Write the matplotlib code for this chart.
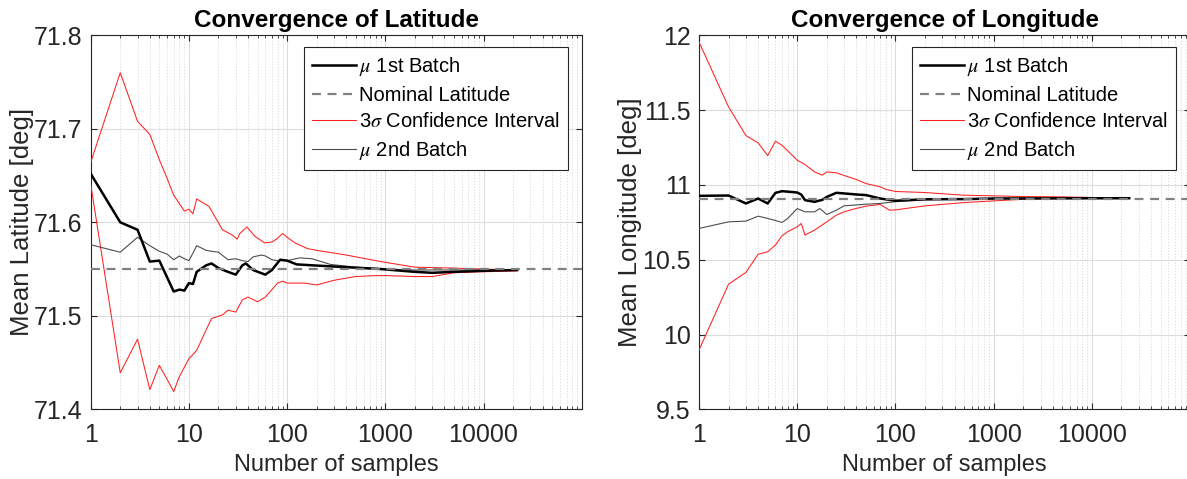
import matplotlib
matplotlib.use('Agg')
import matplotlib.pyplot as plt
import numpy as np

plt.rcParams['font.family'] = ['Liberation Sans', 'DejaVu Sans']
plt.rcParams['mathtext.fontset'] = 'stix'

# --- latitude (left panel) ---
lat_nominal = 71.55

lat_up_n = [1, 2, 3, 4, 5, 6, 7, 9, 10, 11, 12, 16, 22, 28, 31, 33, 39, 47, 59, 70, 78, 90,
            100, 120, 160, 200, 400, 900, 2000, 5000, 10000, 22000]
lat_up = [71.664, 71.760, 71.708, 71.694, 71.667, 71.647, 71.629, 71.612, 71.614, 71.609, 71.625,
          71.617, 71.592, 71.586, 71.582, 71.588, 71.595, 71.585, 71.578, 71.579, 71.582, 71.588,
          71.584, 71.578, 71.572, 71.570, 71.565, 71.558, 71.552, 71.551, 71.550, 71.549]

lat_lo_n = [1, 2, 3, 4, 5, 6, 7, 8, 10, 12, 15, 17, 22, 25, 30, 35, 40, 50, 60, 80, 90, 100,
            150, 200, 300, 500, 800, 1000, 2000, 3000, 5000, 9000, 22000]
lat_lo = [71.641, 71.439, 71.475, 71.421, 71.447, 71.432, 71.419, 71.435, 71.454, 71.463, 71.485,
          71.497, 71.501, 71.506, 71.504, 71.517, 71.520, 71.515, 71.520, 71.535, 71.537, 71.535,
          71.535, 71.533, 71.538, 71.542, 71.543, 71.543, 71.542, 71.542, 71.546, 71.547, 71.548]

lat_b1_n = [1, 2, 3, 4, 5, 7, 8, 9, 10, 11, 12, 15, 17, 20, 25, 30, 35, 38, 45, 60, 70, 85,
            100, 125, 180, 400, 900, 2000, 3000, 5000, 9000, 22000]
lat_b1 = [71.652, 71.600, 71.592, 71.558, 71.559, 71.526, 71.528, 71.527, 71.535, 71.534, 71.547,
          71.554, 71.556, 71.551, 71.547, 71.544, 71.554, 71.556, 71.549, 71.544, 71.549, 71.560,
          71.559, 71.555, 71.554, 71.552, 71.550, 71.547, 71.546, 71.547, 71.548, 71.549]

lat_b2_n = [1, 2, 3, 4, 5, 6, 7, 8, 9, 10, 11, 12, 15, 17, 20, 25, 30, 35, 40, 45, 55, 60, 70,
            80, 100, 135, 180, 275, 500, 1000, 1900, 5000, 22000]
lat_b2 = [71.576, 71.568, 71.584, 71.575, 71.569, 71.566, 71.560, 71.564, 71.561, 71.559, 71.567,
          71.575, 71.570, 71.569, 71.568, 71.560, 71.561, 71.559, 71.558, 71.563, 71.565, 71.564,
          71.560, 71.559, 71.559, 71.562, 71.561, 71.555, 71.552, 71.550, 71.549, 71.549, 71.549]

# --- longitude (right panel) ---
lon_nominal = 10.905

lon_up_n = [1, 2, 3, 4, 5, 6, 7, 10, 12, 15, 18, 20, 25, 30, 40, 50, 70, 80, 100, 200, 500,
            1000, 2000, 5000, 24000]
lon_up = [11.955, 11.521, 11.330, 11.281, 11.196, 11.292, 11.265, 11.165, 11.136, 11.087, 11.065,
          11.087, 11.081, 11.063, 11.036, 11.009, 10.987, 10.970, 10.956, 10.949, 10.931, 10.927,
          10.922, 10.920, 10.911]

lon_lo_n = [1, 2, 3, 4, 5, 6, 7, 8, 10, 11, 12, 15, 20, 25, 30, 40, 50, 70, 87, 100, 200, 500,
            1000, 2000, 5000, 24000]
lon_lo = [9.896, 10.337, 10.415, 10.537, 10.553, 10.598, 10.660, 10.687, 10.720, 10.742, 10.664,
          10.698, 10.753, 10.798, 10.820, 10.843, 10.858, 10.869, 10.831, 10.833, 10.860, 10.882,
          10.893, 10.904, 10.909, 10.911]

lon_b1_n = [1, 2, 3, 4, 5, 6, 7, 8, 10, 11, 12, 15, 18, 20, 25, 30, 40, 50, 70, 100, 200, 500,
            1000, 3000, 24000]
lon_b1 = [10.927, 10.929, 10.876, 10.909, 10.876, 10.947, 10.958, 10.955, 10.949, 10.935, 10.898,
          10.887, 10.900, 10.920, 10.947, 10.943, 10.936, 10.932, 10.909, 10.894, 10.904, 10.905,
          10.909, 10.910, 10.911]

lon_b2_n = [1, 2, 3, 4, 5, 6, 7, 8, 10, 12, 15, 17, 20, 25, 30, 50, 70, 100, 200, 500, 1000, 24000]
lon_b2 = [10.709, 10.753, 10.758, 10.791, 10.776, 10.762, 10.749, 10.776, 10.842, 10.820, 10.820,
          10.842, 10.802, 10.831, 10.860, 10.871, 10.876, 10.888, 10.900, 10.906, 10.909, 10.911]

x_ticks = [1, 10, 100, 1000, 10000]
x_ticklabels = ['1', '10', '100', '1000', '10000']
lat_yticks = [71.4, 71.5, 71.6, 71.7, 71.8]
lon_yticks = [9.5, 10, 10.5, 11, 11.5, 12]
lon_yticklabels = ['9.5', '10', '10.5', '11', '11.5', '12']

dark = '#262626'

fig = plt.figure(figsize=(11.87, 4.79), dpi=100)
ax1 = fig.add_axes([0.0764, 0.1455, 0.4137, 0.7808])
ax2 = fig.add_axes([0.5889, 0.1455, 0.4137, 0.7808])


def draw(ax, b1n, b1, nominal, upn, up, lon, lo, b2n, b2):
    ax.plot(b1n, b1, color='black', lw=1.8, label=r'$\mu$ 1st Batch', zorder=4)
    ax.axhline(nominal, color='#808080', lw=1.6, ls=(0, (4, 3)), label='Nominal Latitude', zorder=5)
    ax.plot(upn, up, color='#ff2020', lw=0.75, label=r'3$\sigma$ Confidence Interval', zorder=3)
    ax.plot(lon, lo, color='#ff2020', lw=0.75, zorder=3)
    ax.plot(b2n, b2, color='#4d4d4d', lw=0.8, label=r'$\mu$ 2nd Batch', zorder=3)

    ax.set_xscale('log')
    ax.set_xlim(1, 1e5)
    ax.set_xticks(x_ticks)
    ax.set_xticklabels(x_ticklabels)
    ax.grid(True, which='major', color='#dcdcdc', lw=0.8)
    ax.grid(True, which='minor', axis='x', color='#d8d8d8', lw=0.6, ls=(0, (1.5, 2)))
    ax.tick_params(which='both', direction='in', top=True, right=True, colors=dark,
                   labelsize=18, length=4)
    ax.tick_params(which='minor', length=2.5)
    ax.tick_params(axis='x', pad=10)
    ax.tick_params(axis='y', pad=6)
    for s in ax.spines.values():
        s.set_color(dark)
        s.set_linewidth(0.8)
    ax.set_xlabel('Number of samples', fontsize=17, color=dark, labelpad=5)

    leg = ax.legend(loc='upper right', bbox_to_anchor=(0.972, 0.969), fontsize=14.5,
                    handlelength=2.2, handletextpad=0.15, borderpad=0.4, labelspacing=0.38,
                    borderaxespad=0, fancybox=False, framealpha=1, edgecolor=dark)
    leg.get_frame().set_linewidth(0.8)


draw(ax1, lat_b1_n, lat_b1, lat_nominal, lat_up_n, lat_up, lat_lo_n, lat_lo, lat_b2_n, lat_b2)
ax1.set_ylim(71.4, 71.8)
ax1.set_yticks(lat_yticks)
ax1.set_yticklabels(['71.4', '71.5', '71.6', '71.7', '71.8'])
ax1.set_ylabel('Mean Latitude [deg]', fontsize=18.5, color=dark, labelpad=0)
ax1.set_title('Convergence of Latitude', fontsize=17.5, fontweight='bold', pad=6)

draw(ax2, lon_b1_n, lon_b1, lon_nominal, lon_up_n, lon_up, lon_lo_n, lon_lo, lon_b2_n, lon_b2)
ax2.set_ylim(9.5, 12)
ax2.set_yticks(lon_yticks)
ax2.set_yticklabels(lon_yticklabels)
ax2.set_ylabel('Mean Longitude [deg]', fontsize=18.5, color=dark, labelpad=0)
ax2.set_title('Convergence of Longitude', fontsize=17.5, fontweight='bold', pad=6)

fig.savefig('out.png', dpi=100)
